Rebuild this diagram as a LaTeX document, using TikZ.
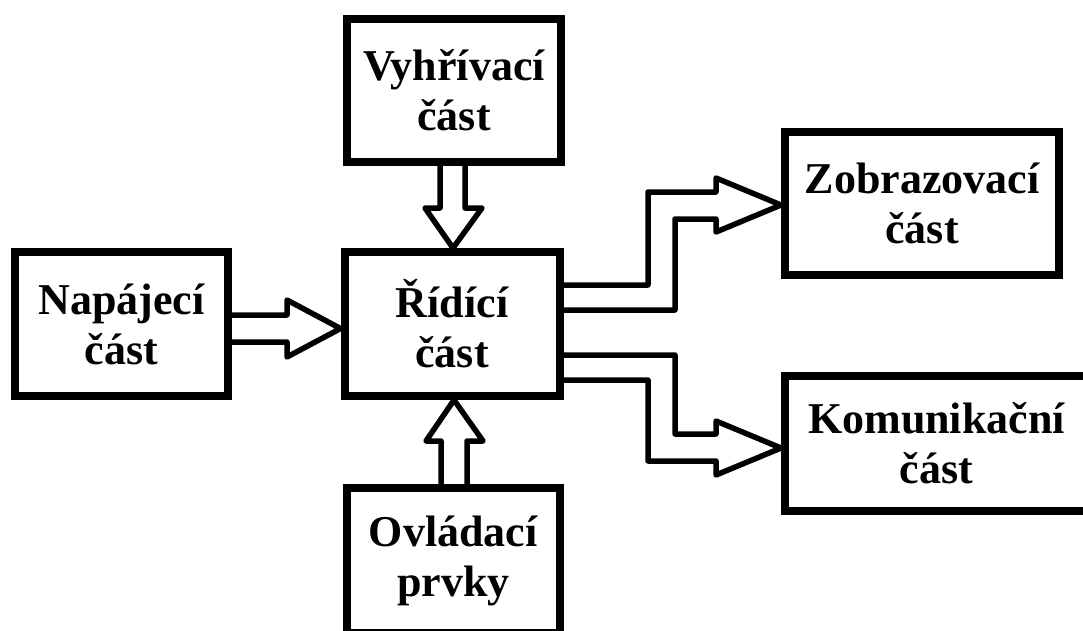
\documentclass[tikz,border=0pt]{standalone}
\usepackage{fontspec}
\setmainfont{Liberation Serif}
\usetikzlibrary{calc}
\begin{document}
\begin{tikzpicture}[x=1pt,y=-1pt,
  blockbox/.style={draw=black,line width=8pt,fill=white,inner sep=0pt,align=center,
    font=\bfseries\fontsize{44}{50}\selectfont},
  fatarrow/.style={draw=black,line width=5.5pt,line join=round}]
\useasboundingbox (0,0) rectangle (1083,630);
\clip (0,0) rectangle (1083,630);
\node[blockbox,minimum width=214pt,minimum height=143.5pt] (V) at (454,90.25) {Vyhřívací\\část};
\node[blockbox,minimum width=215pt,minimum height=144pt] (R) at (452,324) {Řídící\\část};
\node[blockbox,minimum width=213pt,minimum height=144pt] (N) at (121.5,324) {Napájecí\\část};
\node[blockbox,minimum width=213.5pt,minimum height=145pt] (O) at (453.3,560.5) {Ovládací\\prvky};
\node[blockbox,minimum width=274pt,minimum height=143pt] (Z) at (922,203.5) {Zobrazovací\\část};
\node[blockbox,minimum width=303pt,minimum height=135pt] (K) at (936.5,443.5) {Komunikační\\část};
% Napajeci -> Ridici
\draw[fatarrow] (N.east |- 0,315) -- (287,315) -- (287,300) -- (R.west |- 0,328.5)
  -- (287,357) -- (287,342) -- (N.east |- 0,342);
% Vyhrivaci -> Ridici
\draw[fatarrow] (V.south -| 440,0) -- (440,208) -- (425,208) -- (R.north -| 453,0)
  -- (482,208) -- (465,208) -- (V.south -| 465,0);
% Ovladaci -> Ridici
\draw[fatarrow] (O.north -| 441,0) -- (441,441) -- (426,441) -- (R.south -| 454,0)
  -- (483,441) -- (467,441) -- (O.north -| 467,0);
% Ridici -> Zobrazovaci
\draw[fatarrow] (R.east |- 0,285) -- (648,285) -- (648,192) -- (716,192) -- (716,178)
  -- (Z.west |- 0,205) -- (716,232) -- (716,219) -- (675,219) -- (675,310) -- (R.east |- 0,310);
% Ridici -> Komunikacni
\draw[fatarrow] (R.east |- 0,355) -- (675,355) -- (675,434) -- (716,434) -- (716,421)
  -- (K.west |- 0,448) -- (716,475) -- (716,461) -- (648,461) -- (648,380) -- (R.east |- 0,380);
\end{tikzpicture}
\end{document}
